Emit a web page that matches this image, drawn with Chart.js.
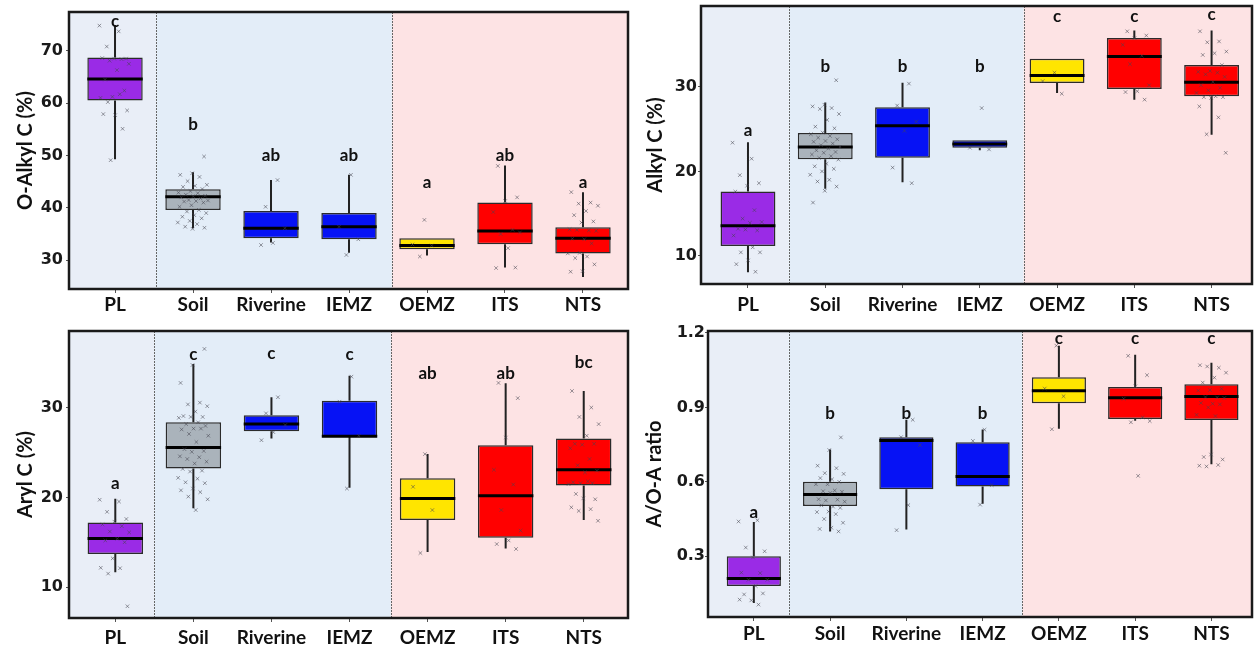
<!DOCTYPE html>
<html lang="en">
<head>
<meta charset="UTF-8">
<title>Carbon fractions by site</title>
<style>
  body { margin: 0; background: #fff; }
  #wrap { position: relative; width: 1257px; height: 648px; overflow: hidden; }
  canvas { position: absolute; }
</style>
</head>
<body>
<div id="wrap">
  <canvas id="c1" width="640" height="320" style="left:0;top:0"></canvas>
  <canvas id="c2" width="617" height="320" style="left:640px;top:0"></canvas>
  <canvas id="c3" width="640" height="328" style="left:0;top:320px"></canvas>
  <canvas id="c4" width="617" height="328" style="left:640px;top:320px"></canvas>
</div>
<script src="https://cdn.jsdelivr.net/npm/chart.js"></script>
<script>
// categories shared by all four panels
const categories = ['PL', 'Soil', 'Riverine', 'IEMZ', 'OEMZ', 'ITS', 'NTS'];

// O-Alkyl C (%)
const oAlkylTicks = [30, 40, 50, 60, 70];
const oAlkylLow = [49.3, 36.1, 33.4, 31.4, 30.9, 28.6, 26.8];
const oAlkylQ1 = [60.5, 39.6, 34.2, 34.0, 32.1, 33.05, 31.3];
const oAlkylMed = [64.6, 42.1, 36.1, 36.4, 32.8, 35.6, 34.2];
const oAlkylQ3 = [68.7, 43.55, 39.4, 39.0, 34.2, 41.0, 36.3];
const oAlkylHigh = [74.9, 46.8, 45.3, 46.3, 34.2, 48.1, 43.0];
const oAlkylLetters = ['c', 'b', 'ab', 'ab', 'a', 'ab', 'a'];
const oAlkylLetterAt = [75.5, 56.0, 49.9, 49.9, 44.9, 49.9, 44.9];
const oAlkylPoints = [
  [74.8, 73.7, 70.8, 68.5, 68.5, 68.6, 68.4, 68.1, 67.5, 66.3, 64.5, 62.4, 61.2, 61.0, 61.7, 60.2, 58.6, 57.7, 57.9, 55.1, 49.1],
  [49.8, 46.6, 46.3, 45.9, 45.1, 44.4, 44.2, 44.0, 43.6, 43.2, 42.9, 42.8, 42.5, 42.3, 42.2, 42.0, 41.8, 41.5, 41.4, 41.3, 41.2, 41.0, 40.5, 40.2, 39.6, 39.3, 39.0, 38.6, 38.3, 38.0, 37.5, 37.2, 36.9, 36.4, 36.2, 36.0],
  [45.3, 40.2, 36.1, 33.3, 32.9],
  [46.3, 36.4, 34.0, 31.0],
  [37.7, 33.0, 32.8, 30.7],
  [48.0, 42.0, 41.3, 39.2, 35.8, 35.0, 35.3, 32.3, 28.5, 28.6],
  [43.0, 41.0, 40.8, 40.4, 39.4, 38.6, 37.4, 37.2, 35.9, 35.7, 35.8, 35.6, 34.0, 34.1, 33.2, 31.4, 31.3, 30.7, 30.4, 29.2, 27.9, 27.8]
];

// Alkyl C (%)
const alkylTicks = [10, 20, 30];
const alkylLow = [8.05, 17.95, 18.7, 22.5, 29.3, 28.5, 24.35];
const alkylQ1 = [11.15, 21.45, 21.6, 22.8, 30.47, 29.76, 28.9];
const alkylMed = [13.55, 22.9, 25.4, 23.25, 31.35, 33.6, 30.55];
const alkylQ3 = [17.6, 24.55, 27.6, 23.7, 33.35, 35.8, 32.6];
const alkylHigh = [23.45, 28.15, 30.5, 23.7, 33.35, 36.7, 36.7];
const alkylLetters = ['a', 'b', 'b', 'b', 'c', 'c', 'c'];
const alkylLetterAt = [24.9, 32.4, 32.4, 32.4, 38.3, 38.4, 38.55];
const alkylPoints = [
  [23.4, 21.5, 19.55, 18.6, 18.3, 17.6, 15.4, 14.4, 14.0, 13.9, 13.2, 13.0, 13.1, 12.4, 11.0, 10.4, 10.4, 9.45, 9.0, 8.1],
  [30.8, 27.9, 27.7, 27.5, 27.4, 26.8, 26.1, 25.3, 25.1, 24.6, 24.4, 24.2, 24.0, 23.8, 23.6, 23.5, 23.3, 23.1, 22.9, 22.7, 22.5, 22.3, 22.2, 22.0, 21.8, 21.6, 21.4, 20.9, 20.6, 20.3, 20.0, 19.6, 19.0, 18.8, 18.2, 17.7, 16.3],
  [30.4, 27.8, 25.9, 24.8, 20.45, 18.6],
  [27.5, 22.8, 22.6],
  [31.7, 30.7, 29.2],
  [36.6, 36.1, 35.8, 35.0, 33.7, 32.7, 30.2, 29.5, 29.4, 28.5],
  [36.6, 35.4, 35.3, 34.2, 34.0, 33.8, 32.6, 31.9, 31.8, 31.7, 31.5, 31.2, 30.6, 30.2, 29.9, 29.6, 29.3, 28.9, 28.8, 28.8, 28.7, 27.7, 26.4, 24.4, 22.2]
];

// Aryl C (%)
const arylTicks = [10, 20, 30];
const arylLow = [11.65, 18.8, 26.6, 21.1, 13.9, 14.3, 17.5];
const arylQ1 = [13.7, 23.25, 27.4, 26.8, 17.5, 15.5, 21.35];
const arylMed = [15.43, 25.6, 28.2, 26.85, 19.9, 20.2, 23.1];
const arylQ3 = [17.2, 28.4, 29.2, 30.8, 22.15, 25.85, 26.6];
const arylHigh = [19.85, 34.9, 31.2, 33.6, 24.85, 32.75, 31.9];
const arylLetters = ['a', 'c', 'c', 'c', 'ab', 'ab', 'bc'];
const arylLetterAt = [21.6, 36.0, 36.05, 36.0, 33.8, 33.9, 35.05];
const arylPoints = [
  [19.75, 19.55, 18.4, 17.6, 17.3, 17.0, 16.8, 16.2, 16.1, 15.4, 15.2, 15.0, 13.2, 12.15, 12.1, 11.5, 7.85],
  [36.6, 34.8, 32.8, 30.6, 30.4, 30.2, 29.6, 29.1, 29.0, 29.0, 28.9, 28.4, 28.2, 28.0, 27.7, 27.6, 27.7, 27.1, 26.9, 26.2, 25.4, 25.2, 25.1, 24.6, 24.5, 24.3, 24.0, 23.8, 23.2, 23.0, 22.9, 22.2, 22.1, 21.7, 21.6, 21.0, 20.8, 20.6, 20.1, 19.8, 18.6],
  [31.2, 29.4, 28.1, 27.3, 26.4],
  [33.5, 30.7, 26.9, 21.0],
  [24.85, 21.2, 18.6, 13.8],
  [32.8, 31.1, 26.7, 23.1, 21.45, 18.6, 16.3, 15.2, 14.8, 14.25],
  [31.9, 30.05, 29.0, 28.2, 26.9, 26.0, 26.0, 25.9, 25.5, 24.3, 23.6, 23.0, 22.8, 21.7, 21.6, 21.6, 21.5, 21.8, 20.4, 19.8, 19.9, 18.9, 18.7, 18.5, 17.4]
];

// A/O-A ratio
const ratioTicks = [0.3, 0.6, 0.9, 1.2];
const ratioLow = [0.111, 0.40, 0.408, 0.512, 0.814, 0.846, 0.671];
const ratioQ1 = [0.18, 0.502, 0.57, 0.581, 0.917, 0.853, 0.849];
const ratioMed = [0.21, 0.549, 0.767, 0.621, 0.967, 0.939, 0.944];
const ratioQ3 = [0.30, 0.60, 0.78, 0.76, 1.022, 0.982, 0.993];
const ratioHigh = [0.438, 0.73, 0.85, 0.811, 1.149, 1.112, 1.08];
const ratioLetters = ['a', 'b', 'b', 'b', 'c', 'c', 'c'];
const ratioLetterAt = [0.476, 0.876, 0.876, 0.876, 1.179, 1.179, 1.179];
const ratioPoints = [
  [0.44, 0.445, 0.335, 0.32, 0.295, 0.234, 0.232, 0.205, 0.205, 0.18, 0.146, 0.15, 0.122, 0.125, 0.105],
  [0.779, 0.728, 0.665, 0.655, 0.635, 0.632, 0.61, 0.615, 0.6, 0.59, 0.59, 0.565, 0.562, 0.56, 0.555, 0.53, 0.528, 0.525, 0.52, 0.5, 0.505, 0.495, 0.48, 0.478, 0.47, 0.45, 0.435, 0.415, 0.41, 0.40],
  [0.85, 0.78, 0.748, 0.506, 0.405],
  [0.81, 0.765, 0.587, 0.508],
  [1.149, 0.976, 0.945, 0.812],
  [1.108, 1.03, 0.985, 0.935, 0.86, 0.84, 0.845, 0.624],
  [1.07, 1.06, 1.065, 1.04, 1.02, 1.0, 0.975, 0.97, 0.968, 0.94, 0.942, 0.938, 0.915, 0.918, 0.912, 0.9, 0.87, 0.865, 0.70, 0.69, 0.71, 0.665, 0.668, 0.662]
];

const boxColors = ['#9a2be6', '#aab3bb', '#0612f5', '#0612f5', '#ffe500', '#ff0000', '#ff0000'];

Chart.defaults.font.family = 'Lato';
Chart.defaults.animation = false;

// spread the points sideways a little (like geom_jitter)
function jitter(k) {
  return (((k * 0.618034) % 1) - 0.5) * 0.4;
}

function buildPanel(id, p) {
  const boxes = categories.map((c, i) => ({ x: i, y: [p.q1[i], p.q3[i]] }));
  const whiskers = [], medians = [], points = [];
  categories.forEach((c, i) => {
    whiskers.push({ x: i, y: p.low[i] }, { x: i, y: p.q1[i] }, { x: i, y: null },
                  { x: i, y: p.q3[i] }, { x: i, y: p.high[i] }, { x: i, y: null });
    medians.push({ x: i - 0.355, y: p.med[i] }, { x: i + 0.355, y: p.med[i] }, { x: i, y: null });
    p.points[i].forEach((v, k) => points.push({ x: i + jitter(k + i * 3), y: v }));
  });

  const decor = {
    id: 'decor',
    beforeDatasetsDraw(chart) {
      const { ctx, chartArea: a, scales: { x } } = chart;
      const d1 = x.getPixelForValue(p.split[0]);
      const d2 = x.getPixelForValue(p.split[1]);
      ctx.save();
      ctx.fillStyle = '#e9eef7';
      ctx.fillRect(a.left, a.top, d1 - a.left, a.height);
      ctx.fillStyle = '#e3edf8';
      ctx.fillRect(d1, a.top, d2 - d1, a.height);
      ctx.fillStyle = '#fde3e4';
      ctx.fillRect(d2, a.top, a.right - d2, a.height);
      ctx.strokeStyle = '#666';
      ctx.lineWidth = 1;
      ctx.setLineDash([2, 1]);
      [d1, d2].forEach(d => {
        ctx.beginPath();
        ctx.moveTo(Math.round(d) + 0.5, a.top);
        ctx.lineTo(Math.round(d) + 0.5, a.bottom);
        ctx.stroke();
      });
      ctx.restore();
    },
    afterDatasetsDraw(chart) {
      const { ctx, chartArea: a, scales: { x, y } } = chart;
      ctx.save();
      ctx.font = 'bold 17px Lato';
      ctx.fillStyle = '#111';
      ctx.textAlign = 'center';
      ctx.textBaseline = 'middle';
      p.letters.forEach((t, i) => ctx.fillText(t, x.getPixelForValue(i), y.getPixelForValue(p.letterAt[i])));
      ctx.strokeStyle = '#1a1a1a';
      ctx.lineWidth = 2.5;
      ctx.strokeRect(a.left, a.top, a.right - a.left, a.bottom - a.top);
      ctx.restore();
    }
  };

  new Chart(document.getElementById(id), {
    type: 'bar',
    data: {
      datasets: [
        {
          type: 'scatter', data: points, order: 0,
          pointStyle: 'crossRot', pointRadius: 2.5, borderWidth: 1,
          borderColor: 'rgba(70,70,80,0.55)', backgroundColor: 'rgba(0,0,0,0)'
        },
        {
          type: 'line', data: medians, order: 1, borderColor: '#000', borderWidth: 3,
          pointRadius: 0, spanGaps: false, fill: false, borderCapStyle: 'butt'
        },
        {
          type: 'bar', data: boxes, order: 2, backgroundColor: boxColors,
          borderColor: '#2b2b2b', borderWidth: 1.5, borderSkipped: false,
          barPercentage: 0.71, categoryPercentage: 1
        },
        {
          type: 'line', data: whiskers, order: 3, borderColor: '#222', borderWidth: 2,
          pointRadius: 0, spanGaps: false, fill: false
        }
      ]
    },
    options: {
      responsive: false,
      layout: { padding: p.pad },
      plugins: { legend: { display: false }, tooltip: { enabled: false } },
      scales: {
        x: {
          type: 'linear', min: p.xMin, max: p.xMax, offset: false,
          grid: { drawOnChartArea: false, drawTicks: true, tickLength: 4, color: '#555', offset: false },
          border: { display: false },
          afterBuildTicks: s => { s.ticks = categories.map((c, i) => ({ value: i })); },
          afterFit: s => { s.height = p.xHeight; s.paddingLeft = 0; s.paddingRight = 0; },
          ticks: {
            autoSkip: false, maxRotation: 0, padding: p.xPad, color: '#111',
            font: { size: 19, weight: 'bold', family: 'Lato' },
            callback: v => categories[v]
          }
        },
        y: {
          type: 'linear', min: p.yMin, max: p.yMax,
          grid: { drawOnChartArea: false, drawTicks: true, tickLength: 3, color: '#555' },
          border: { display: false },
          afterBuildTicks: s => { s.ticks = p.ticks.map(v => ({ value: v })); },
          afterFit: s => { s.width = p.yWidth; s.paddingTop = 0; s.paddingBottom = 0; },
          ticks: {
            padding: p.yPad, color: '#1a1a1a',
            font: { size: 16, weight: 'bold', family: 'DejaVu Sans' },
            callback: v => String(v)
          },
          title: {
            display: true, text: p.title, color: '#111',
            font: { size: 20, weight: 'bold', family: 'Lato' },
            padding: { top: p.titlePad, bottom: 0 }
          }
        }
      }
    },
    plugins: [decor]
  });
}

buildPanel('c1', {
  title: 'O-Alkyl C (%)', ticks: oAlkylTicks,
  low: oAlkylLow, q1: oAlkylQ1, med: oAlkylMed, q3: oAlkylQ3, high: oAlkylHigh,
  letters: oAlkylLetters, letterAt: oAlkylLetterAt, points: oAlkylPoints,
  yMin: 24.5, yMax: 77.4, xMin: -0.59, xMax: 6.577, split: [0.53, 3.55],
  pad: { top: 12, right: 12, left: 0, bottom: 0 }, yWidth: 69, xHeight: 31,
  xPad: 0, yPad: 3, titlePad: 14
});

buildPanel('c2', {
  title: 'Alkyl C (%)', ticks: alkylTicks,
  low: alkylLow, q1: alkylQ1, med: alkylMed, q3: alkylQ3, high: alkylHigh,
  letters: alkylLetters, letterAt: alkylLetterAt, points: alkylPoints,
  yMin: 6.65, yMax: 39.6, xMin: -0.608, xMax: 6.523, split: [0.527, 3.568],
  pad: { top: 6, right: 1, left: 0, bottom: 0 }, yWidth: 61, xHeight: 36,
  xPad: 5, yPad: 1, titlePad: 4
});

buildPanel('c3', {
  title: 'Aryl C (%)', ticks: arylTicks,
  low: arylLow, q1: arylQ1, med: arylMed, q3: arylQ3, high: arylHigh,
  letters: arylLetters, letterAt: arylLetterAt, points: arylPoints,
  yMin: 6.54, yMax: 38.6, xMin: -0.593, xMax: 6.567, split: [0.5, 3.53],
  pad: { top: 11, right: 12, left: 0, bottom: 0 }, yWidth: 69, xHeight: 30,
  xPad: 4, yPad: 3, titlePad: 14
});

buildPanel('c4', {
  title: 'A/O-A ratio', ticks: ratioTicks,
  low: ratioLow, q1: ratioQ1, med: ratioMed, q3: ratioQ3, high: ratioHigh,
  letters: ratioLetters, letterAt: ratioLetterAt, points: ratioPoints,
  yMin: 0.055, yMax: 1.208, xMin: -0.601, xMax: 6.532, split: [0.455, 3.52],
  pad: { top: 11, right: 1, left: 0, bottom: 0 }, yWidth: 68, xHeight: 31,
  xPad: 1, yPad: 0, titlePad: 3
});
</script>
</body>
</html>
